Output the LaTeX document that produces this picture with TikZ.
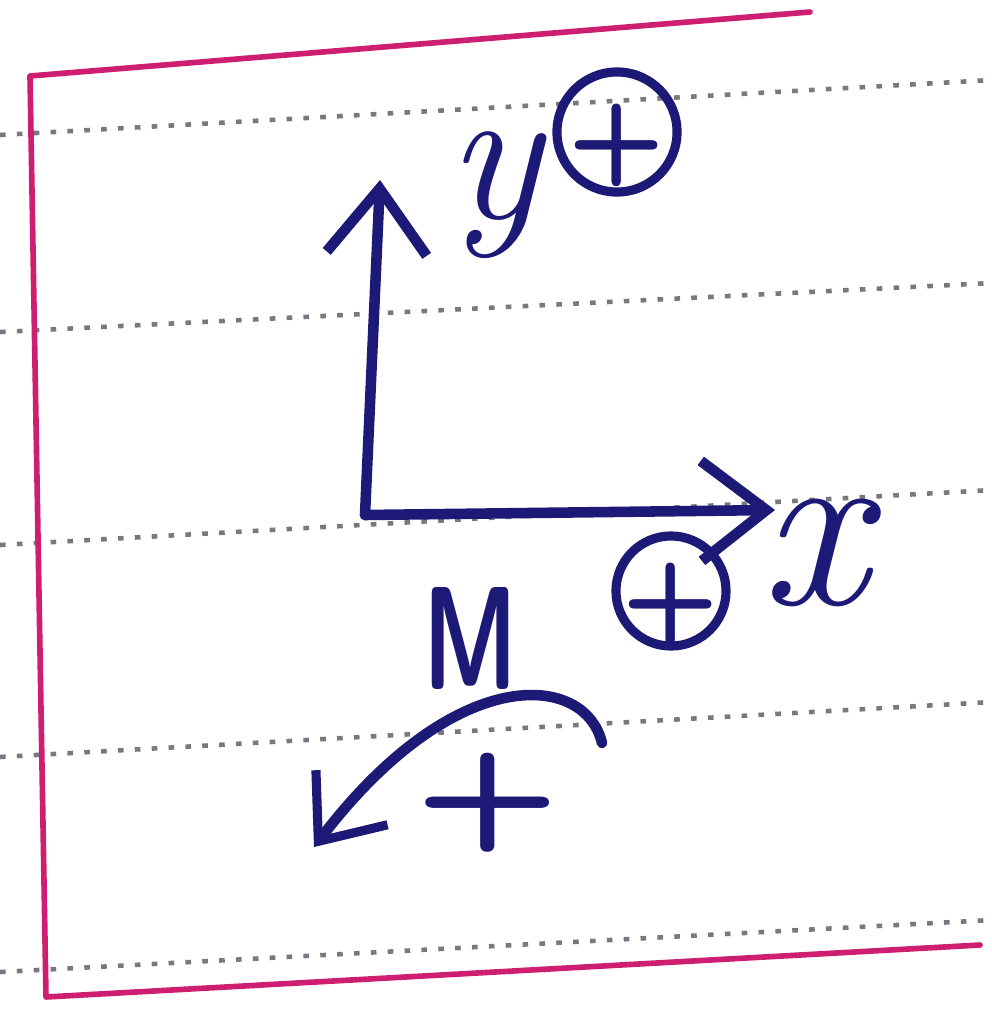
\documentclass[tikz,border=0pt]{standalone}
\usepackage{fontspec}
\usetikzlibrary{arrows.meta}
\definecolor{pen}{RGB}{28,26,118}
\definecolor{margin}{RGB}{205,30,112}
\definecolor{rule}{RGB}{120,120,130}
\newcommand{\zplus}{\raisebox{-0.37em}[0pt][0pt]{\makebox[0pt]{+}}}
\tikzset{
  ruleline/.style={rule, line width=1.3pt, dash pattern=on 1.6pt off 3.2pt},
  marginline/.style={margin, line width=1.6pt, line cap=round, line join=round},
  penline/.style={pen, line width=3pt, line cap=round, line join=round},
  barb/.style={-{Straight Barb[length=6.5mm,width=10mm,line width=3pt]}},
  smallbarb/.style={-{Straight Barb[length=5.5mm,width=9mm,line width=2.6pt]}},
  circplus/.style={circle, draw=pen, line width=2.6pt, inner sep=0pt, text=pen, font=\sffamily\bfseries\fontsize{32}{32}\selectfont},
  lbl/.style={text=pen, inner sep=0pt}
}
\begin{document}
\begin{tikzpicture}[x=0.01cm,y=-0.01cm]
\useasboundingbox (0,0) rectangle (992,1009);
\fill[white] (0,0) rectangle (992,1009);
% ruled lines
\draw[ruleline] (0,135) -- (992,80);
\draw[ruleline] (0,332) -- (992,283);
\draw[ruleline] (0,545) -- (992,490);
\draw[ruleline] (0,757) -- (992,702);
\draw[ruleline] (0,972) -- (992,920);
% margin box
\coordinate (TR) at (810,12);
\coordinate (TL) at (30,76);
\coordinate (BL) at (46,997);
\coordinate (BR) at (980,945);
\draw[marginline] (TR) -- (TL) -- (BL) -- (BR);
% axes
\coordinate (O) at (365,515);
\coordinate (Yt) at (380,180);
\coordinate (Xt) at (775,510);
\draw[penline, barb] (O) -- (Yt);
\draw[penline, barb] (O) -- (Xt);
% labels
\node[lbl, font=\itshape\fontsize{56}{56}\selectfont] (ylab) at (494,195) {y};
\node[circplus, minimum size=1.2cm] (yplus) at (617,132) {\zplus};
\node[lbl, font=\itshape\fontsize{68}{68}\selectfont] (xlab) at (814,553) {x};
\node[circplus, minimum size=1.1cm] (xplus) at (671,591) {\zplus};
\node[lbl, xscale=0.72, yscale=1.1, font=\sffamily\bfseries\fontsize{38}{38}\selectfont] (Mlab) at (471,638) {M};
% moment arc
\coordinate (As) at (602,743);
\coordinate (Ae) at (314,847);
\draw[penline, smallbarb] (As) .. controls (585,672) and (455,662) .. (Ae);
\node[lbl, yscale=0.8, font=\sffamily\bfseries\fontsize{48}{48}\selectfont] (mplus) at (488,803) {+};
\end{tikzpicture}
\end{document}
